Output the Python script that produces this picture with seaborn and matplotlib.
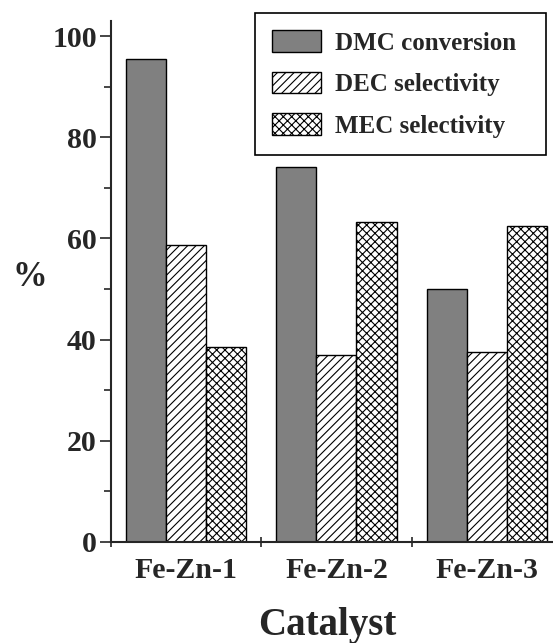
import matplotlib
matplotlib.use("Agg")
import matplotlib.pyplot as plt
from matplotlib.ticker import MultipleLocator
import pandas as pd
import seaborn as sns

# Catalyst performance data (%)
catalysts = ["Fe-Zn-1", "Fe-Zn-2", "Fe-Zn-3"]
dmc_conversion = [95.4, 74.2, 50.0]
dec_selectivity = [58.6, 36.9, 37.6]
mec_selectivity = [38.6, 63.2, 62.4]
series_labels = ["DMC conversion", "DEC selectivity", "MEC selectivity"]

df = pd.DataFrame({
    "Catalyst": catalysts * 3,
    "value": dmc_conversion + dec_selectivity + mec_selectivity,
    "series": [s for s in series_labels for _ in catalysts],
})

sns.set_style("ticks")
plt.rcParams["font.family"] = ["Liberation Serif", "DejaVu Serif"]
plt.rcParams["font.weight"] = "bold"
plt.rcParams["hatch.linewidth"] = 0.8
plt.rcParams["hatch.color"] = "black"

W, H = 553, 643
fig = plt.figure(figsize=(W / 100, H / 100), dpi=100)
x0, y0, ytop = 111, 542, 21
ax = fig.add_axes([x0 / W, 1 - y0 / H, 1 - x0 / W, (y0 - ytop) / H])

sns.barplot(
    data=df, x="Catalyst", y="value", hue="series",
    palette=["#808080", "white", "white"], saturation=1,
    width=0.8, gap=0, edgecolor="black", linewidth=1.0,
    errorbar=None, ax=ax,
)

for container, hatch in zip(ax.containers, ["", "////", "xxxx"]):
    for bar in container:
        bar.set_hatch(hatch)

ax.get_legend().remove()
ax.set_ylim(0, (y0 - ytop) / 5.06)
ax.set_xlim(-0.5, -0.5 + (W - x0) / 150.3)
ax.set_xlabel("")
ax.set_ylabel("")

for side in ["top", "right"]:
    ax.spines[side].set_visible(False)
for side in ["left", "bottom"]:
    ax.spines[side].set_linewidth(1.5)

ax.set_yticks([0, 20, 40, 60, 80, 100])
ax.yaxis.set_minor_locator(MultipleLocator(10))
ax.tick_params(axis="y", which="major", direction="out", length=8, width=1.2,
               labelsize=21.5, pad=2.2)
ax.tick_params(axis="y", which="minor", direction="out", length=5, width=1.2)

ax.set_xticks([0, 1, 2])
ax.set_xticklabels(catalysts)
ax.set_xticks([-0.5, 0.5, 1.5], minor=True)
ax.tick_params(axis="x", which="major", length=0, labelsize=21.5, pad=11)
ax.tick_params(axis="x", which="minor", direction="inout", length=7, width=1.2)

# Legend box spans a fixed region in the upper right
leg = fig.legend(
    handles=list(ax.containers), labels=series_labels,
    loc="upper left", mode="expand",
    bbox_to_anchor=(255 / W, 1 - 155 / H, 291 / W, 142 / H),
    bbox_transform=fig.transFigure, borderaxespad=0,
    fontsize=18, frameon=True, fancybox=False, framealpha=1,
    edgecolor="black", handlelength=1.96, handleheight=0.96,
    handletextpad=0.55, labelspacing=0.68, borderpad=0.69,
)
leg.get_frame().set_linewidth(1.2)

fig.text(30 / W, 1 - 277 / H, "%", fontsize=25, fontweight="bold",
         ha="center", va="center")
fig.text(327 / W, 1 - 635 / H, "Catalyst", fontsize=28, fontweight="bold",
         ha="center", va="baseline")

fig.savefig("out.png", dpi=100)
